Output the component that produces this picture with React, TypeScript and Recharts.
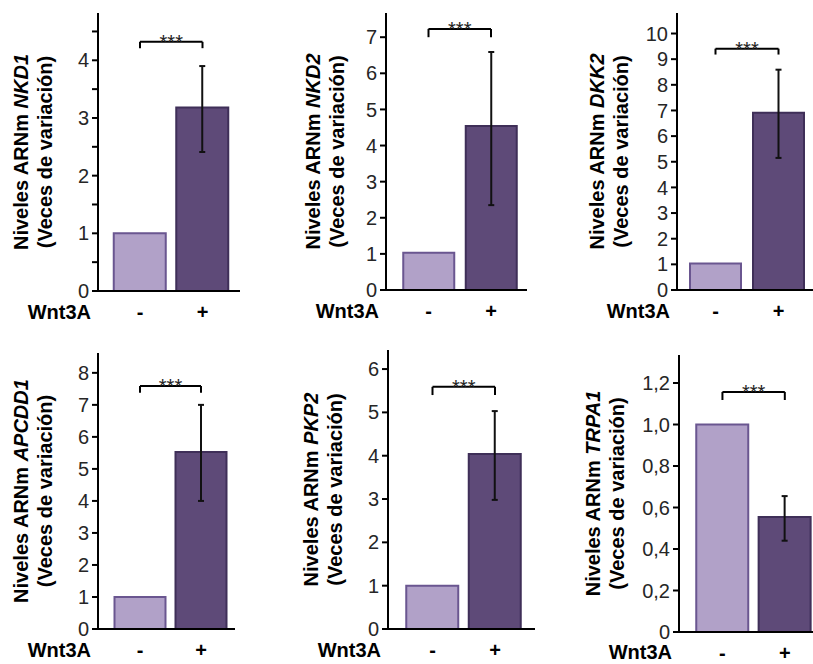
import React from 'react';
import { BarChart, Bar, Cell, XAxis, YAxis, ErrorBar, ReferenceLine } from 'recharts';

// shared categories (Wnt3A absent / present)
const treatment = ['-', '+'];

// NKD1
const nkd1Mean = [1.0, 3.18];
const nkd1Low = [null, 2.41];
const nkd1High = [null, 3.9];
const nkd1Ticks = [0, 0.5, 1, 1.5, 2, 2.5, 3, 3.5, 4, 4.5];
const nkd1Bracket = [4.32, 4.21];

// NKD2
const nkd2Mean = [1.03, 4.54];
const nkd2Low = [null, 2.35];
const nkd2High = [null, 6.59];
const nkd2Ticks = [0, 1, 2, 3, 4, 5, 6, 7];
const nkd2Bracket = [7.23, 7.0];

// DKK2
const dkk2Mean = [1.03, 6.91];
const dkk2Low = [null, 5.15];
const dkk2High = [null, 8.59];
const dkk2Ticks = [0, 1, 2, 3, 4, 5, 6, 7, 8, 9, 10];
const dkk2Bracket = [9.41, 9.18];

// APCDD1
const apcdd1Mean = [1.0, 5.53];
const apcdd1Low = [null, 4.0];
const apcdd1High = [null, 7.0];
const apcdd1Ticks = [0, 1, 2, 3, 4, 5, 6, 7, 8];
const apcdd1Bracket = [7.59, 7.38];

// PKP2
const pkp2Mean = [1.0, 4.04];
const pkp2Low = [null, 2.98];
const pkp2High = [null, 5.03];
const pkp2Ticks = [0, 1, 2, 3, 4, 5, 6];
const pkp2Bracket = [5.59, 5.4];

// TRPA1
const trpa1Mean = [1.0, 0.554];
const trpa1Low = [null, 0.44];
const trpa1High = [null, 0.655];
const trpa1Ticks = [0, 0.2, 0.4, 0.6, 0.8, 1.0, 1.2];
const trpa1Bracket = [1.157, 1.118];

const LIGHT = '#b1a1c8';
const LIGHT_EDGE = '#6a5690';
const DARK = '#5e4a78';
const DARK_EDGE = '#3f2f58';

const intOnly = (v: number) => (Number.isInteger(v) ? String(v) : '');
const plain = (v: number) => String(v);
const comma = (v: number) => (v === 0 ? '0' : v.toFixed(1).replace('.', ','));

const SignTick = (props: any) => {
  const { x, y, payload } = props;
  return (
    <text x={x} y={y + 28} textAnchor="middle" fontSize={20} fontWeight="bold" fill="#000">
      {payload.value}
    </text>
  );
};

const YLabel = ({ viewBox, gene, off }: any) => {
  const { x, y, width, height } = viewBox;
  const cy = y + height / 2;
  const x1 = x + width + off;
  const x2 = x1 + 24;
  return (
    <g fontWeight="bold" fontSize={20} fill="#000">
      <text x={x1} y={cy} textAnchor="middle" transform={`rotate(-90 ${x1} ${cy})`}>
        Niveles ARNm <tspan fontStyle="italic">{gene}</tspan>
      </text>
      <text x={x2} y={cy} textAnchor="middle" transform={`rotate(-90 ${x2} ${cy})`}>
        (Veces de variación)
      </text>
    </g>
  );
};

const WntLabel = ({ viewBox, dy }: any) => (
  <text x={viewBox.x - 7} y={viewBox.y + dy} textAnchor="end" fontSize={20} fontWeight="bold" fill="#000">
    Wnt3A
  </text>
);

interface PanelProps {
  gene: string;
  mean: number[];
  low: (number | null)[];
  high: (number | null)[];
  ticks: number[];
  domainMax: number;
  bracket: number[];
  fmt: (v: number) => string;
  left: number;
  top: number;
  width: number;
  height: number;
  axisX: number;
  plotTop: number;
  plotBottom: number;
  plotRight: number;
  padL: number;
  padR: number;
  barSize: number;
  labelOff: number;
  wntDy?: number;
}

const Panel: React.FC<PanelProps> = (p) => {
  const data = treatment.map((t, i) => ({
    t,
    v: p.mean[i],
    err: p.low[i] == null ? null : [p.mean[i] - (p.low[i] as number), (p.high[i] as number) - p.mean[i]],
  }));

  return (
    <div style={{ position: 'absolute', left: p.left, top: p.top }}>
      <BarChart
        width={p.width}
        height={p.height}
        data={data}
        margin={{ top: p.plotTop - p.top, right: p.left + p.width - p.plotRight, bottom: 0, left: 0 }}
      >
        <XAxis
          dataKey="t"
          type="category"
          height={p.top + p.height - p.plotBottom}
          padding={{ left: p.padL, right: p.padR }}
          axisLine={{ stroke: '#000', strokeWidth: 2 }}
          tickLine={false}
          tickSize={0}
          tickMargin={0}
          tick={<SignTick />}
          label={(lp: any) => <WntLabel {...lp} dy={p.wntDy ?? 28} />}
        />
        <YAxis
          type="number"
          width={p.axisX - p.left}
          domain={[0, p.domainMax]}
          ticks={p.ticks}
          interval={0}
          tickFormatter={p.fmt}
          axisLine={{ stroke: '#000', strokeWidth: 2 }}
          tickLine={{ stroke: '#000', strokeWidth: 2 }}
          tickSize={6}
          tickMargin={3}
          tick={{ fill: '#262626', fontSize: 20 }}
          label={(lp: any) => <YLabel {...lp} gene={p.gene} off={p.labelOff} />}
        />
        <Bar dataKey="v" barSize={p.barSize} strokeWidth={2} isAnimationActive={false}>
          <Cell fill={LIGHT} stroke={LIGHT_EDGE} />
          <Cell fill={DARK} stroke={DARK_EDGE} />
          <ErrorBar dataKey="err" width={3} stroke="#111" strokeWidth={2} direction="y" />
        </Bar>
        <ReferenceLine
          segment={[{ x: '-', y: p.bracket[0] }, { x: '+', y: p.bracket[0] }]}
          stroke="#000"
          strokeWidth={2}
          label={{ value: '***', position: 'center', fontSize: 20, fill: '#222' }}
        />
        <ReferenceLine segment={[{ x: '-', y: p.bracket[0] }, { x: '-', y: p.bracket[1] }]} stroke="#000" strokeWidth={2} />
        <ReferenceLine segment={[{ x: '+', y: p.bracket[0] }, { x: '+', y: p.bracket[1] }]} stroke="#000" strokeWidth={2} />
      </BarChart>
    </div>
  );
};

export default function App() {
  return (
    <div
      style={{
        position: 'absolute',
        left: 0,
        top: 0,
        width: 813,
        height: 664,
        overflow: 'hidden',
        background: '#fff',
        fontFamily: 'Arial, "Liberation Sans", Helvetica, sans-serif',
      }}
    >
      <Panel gene="NKD1" mean={nkd1Mean} low={nkd1Low} high={nkd1High} ticks={nkd1Ticks} domainMax={4.82}
        bracket={nkd1Bracket} fmt={intOnly} left={0} top={0} width={270} height={330} axisX={98}
        plotTop={13} plotBottom={291} plotRight={240} padL={10.75} padR={6.25} barSize={52} labelOff={-70} />
      <Panel gene="NKD2" mean={nkd2Mean} low={nkd2Low} high={nkd2High} ticks={nkd2Ticks} domainMax={7.67}
        bracket={nkd2Bracket} fmt={plain} left={280} top={0} width={270} height={330} axisX={386}
        plotTop={13} plotBottom={290} plotRight={527} padL={11.25} padR={4.75} barSize={51} labelOff={-66} />
      <Panel gene="DKK2" mean={dkk2Mean} low={dkk2Low} high={dkk2High} ticks={dkk2Ticks} domainMax={10.8}
        bracket={dkk2Bracket} fmt={plain} left={560} top={0} width={260} height={330} axisX={677}
        plotTop={13} plotBottom={290} plotRight={816} padL={7} padR={6} barSize={51} labelOff={-73} />
      <Panel gene="APCDD1" mean={apcdd1Mean} low={apcdd1Low} high={apcdd1High} ticks={apcdd1Ticks} domainMax={8.62}
        bracket={apcdd1Bracket} fmt={plain} left={0} top={330} width={270} height={334} axisX={98}
        plotTop={353} plotBottom={629} plotRight={235} padL={11.5} padR={3.5} barSize={51} labelOff={-70} />
      <Panel gene="PKP2" mean={pkp2Mean} low={pkp2Low} high={pkp2High} ticks={pkp2Ticks} domainMax={6.44}
        bracket={pkp2Bracket} fmt={plain} left={280} top={330} width={270} height={334} axisX={388}
        plotTop={350} plotBottom={629} plotRight={535} padL={13.25} padR={8.75} barSize={52} labelOff={-70} />
      <Panel gene="TRPA1" mean={trpa1Mean} low={trpa1Low} high={trpa1High} ticks={trpa1Ticks} domainMax={1.335}
        bracket={trpa1Bracket} fmt={comma} left={560} top={330} width={260} height={334} axisX={679}
        plotTop={355} plotBottom={632} plotRight={816} padL={12.25} padR={0} barSize={52} labelOff={-79} wntDy={27} />
    </div>
  );
}
